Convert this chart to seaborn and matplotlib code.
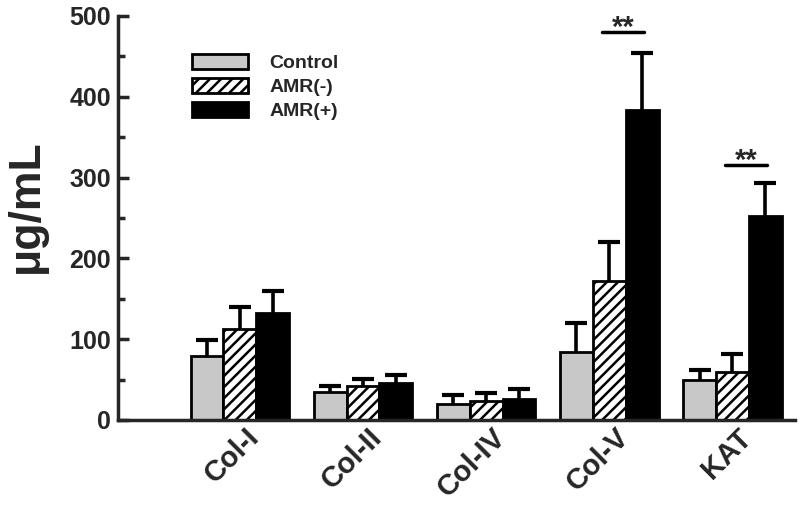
import numpy as np
import pandas as pd
import matplotlib
matplotlib.use("Agg")
import matplotlib.pyplot as plt
import matplotlib.transforms as mtransforms
import seaborn as sns

# values
groups = ["Col-I", "Col-II", "Col-IV", "Col-V", "KAT"]
conditions = ["Control", "AMR(-)", "AMR(+)"]
control_mean = [79, 35, 20, 84, 49]
control_sd = [20, 7, 11, 36, 13]
amr_neg_mean = [113, 42, 24, 172, 60]
amr_neg_sd = [27, 9, 9, 48, 22]
amr_pos_mean = [132, 46, 26, 384, 252]
amr_pos_sd = [28, 10, 12, 70, 41]

# significance marks
sig_groups = ["Col-V", "KAT"]
sig_levels = [480, 316]
sig_labels = ["**", "**"]

sns.set_style("ticks")
plt.rcParams["font.family"] = ["Liberation Sans", "DejaVu Sans"]
plt.rcParams["font.weight"] = "bold"
plt.rcParams["hatch.linewidth"] = 1.8
plt.rcParams["hatch.color"] = "black"

df = pd.DataFrame({
    "group": groups * 3,
    "cond": np.repeat(conditions, len(groups)),
    "value": control_mean + amr_neg_mean + amr_pos_mean,
})
sds = [control_sd, amr_neg_sd, amr_pos_sd]

fig = plt.figure(figsize=(8, 5.15), dpi=100)
ax = fig.add_axes([0.1475, 0.1845, 0.8465, 0.7845])

palette = {"Control": "#c8c8c8", "AMR(-)": "white", "AMR(+)": "black"}
sns.barplot(data=df, x="group", y="value", hue="cond", hue_order=conditions,
            order=groups, palette=palette, errorbar=None, width=0.8,
            saturation=1, ax=ax, zorder=2, legend=False)

bar_sets = list(ax.containers)
hatches = [None, "///", None]
for cont, hatch, sd in zip(bar_sets, hatches, sds):
    xs, hs = [], []
    for bar in cont:
        bar.set_edgecolor("black")
        bar.set_linewidth(2)
        if hatch:
            bar.set_hatch(hatch)
        xs.append(bar.get_x() + bar.get_width() / 2)
        hs.append(bar.get_height())
    # symmetric bars drawn under the boxes so only the upper half shows
    ax.errorbar(xs, hs, yerr=sd, fmt="none", ecolor="black",
                elinewidth=2.6, capsize=8, capthick=3, zorder=1)

for g, lvl, lab in zip(sig_groups, sig_levels, sig_labels):
    gx = groups.index(g)
    ax.plot([gx - 0.06, gx + 0.28], [lvl, lvl], color="black", lw=2.5)
    ax.text(gx + 0.11, lvl - 5, lab, ha="center", va="baseline", fontsize=21,
            fontweight="bold")

ax.set_ylim(0, 500)
ax.set_xlim(-0.99, 4.51)
ax.set_yticks(range(0, 501, 100))
ax.set_yticks(range(50, 500, 100), minor=True)
ax.tick_params(axis="y", which="major", direction="in", length=8, width=2.5,
               labelsize=18, pad=5)
ax.tick_params(axis="y", which="minor", direction="in", length=5, width=2.5)
ax.tick_params(axis="x", length=0, pad=0)

# x labels rotated 45 degrees, end of the text just right of each group
ax.set_xticks(range(len(groups)))
ax.set_xticklabels(groups, rotation=45, ha="right", va="center",
                   rotation_mode="anchor", fontsize=21, fontweight="bold")
shift = mtransforms.ScaledTranslation(0.15, -0.13, fig.dpi_scale_trans)
for lab in ax.get_xticklabels():
    lab.set_transform(lab.get_transform() + shift)
for lab in ax.get_yticklabels():
    lab.set_fontweight("bold")

sns.despine(ax=ax)
ax.spines["left"].set_linewidth(2.5)
ax.spines["bottom"].set_linewidth(2.5)

ax.set_xlabel("")
ax.set_ylabel("\u03bcg/mL", fontsize=32, fontweight="bold")
ax.yaxis.set_label_coords(-0.105, 0.53)

handles = [cont.patches[0] for cont in bar_sets]
ax.legend(handles, conditions, loc="upper left", bbox_to_anchor=(0.109, 0.905),
          frameon=False, borderaxespad=0, borderpad=0,
          handlelength=2.9, handleheight=0.78, handletextpad=1.1,
          labelspacing=0.3, prop={"weight": "bold", "size": 14})

fig.savefig("out.png", dpi=100)
